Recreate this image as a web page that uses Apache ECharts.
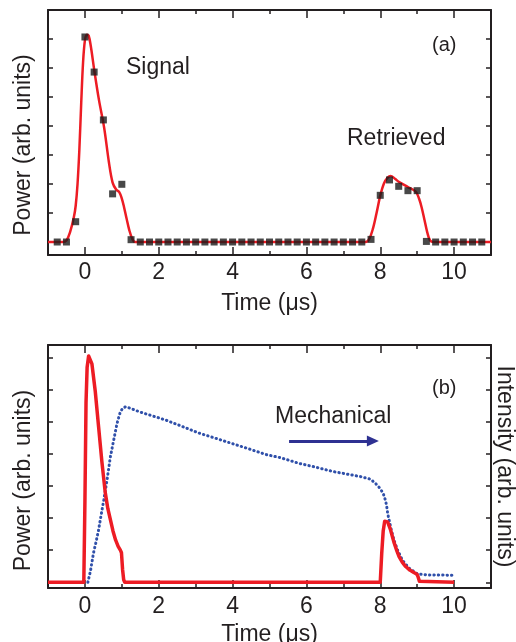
<!DOCTYPE html>
<html>
<head>
<meta charset="utf-8">
<script src="https://cdn.jsdelivr.net/npm/echarts@6/dist/echarts.min.js"></script>
<style>
  html, body { margin: 0; padding: 0; background: #fff; }
  #main { width: 516px; height: 642px; }
</style>
</head>
<body>
<div id="main"></div>
<script>
// (a) measured points: time in us, power in arb. units
var sigTime = [-0.75, -0.5, -0.25, 0, 0.25, 0.5, 0.75, 1, 1.25, 1.5, 1.75, 2, 2.25, 2.5, 2.75, 3, 3.25, 3.5, 3.75, 4, 4.25, 4.5, 4.75, 5, 5.25, 5.5, 5.75, 6, 6.25, 6.5, 6.75, 7, 7.25, 7.5, 7.75, 8, 8.25, 8.5, 8.75, 9, 9.25, 9.5, 9.75, 10, 10.25, 10.5, 10.75];
var sigPower = [0, 0, 0.7, 7.07, 5.86, 4.21, 1.66, 1.99, 0.08, 0, 0, 0, 0, 0, 0, 0, 0, 0, 0, 0, 0, 0, 0, 0, 0, 0, 0, 0, 0, 0, 0, 0, 0, 0, 0.09, 1.61, 2.14, 1.92, 1.77, 1.77, 0.02, 0, 0, 0, 0, 0, 0];

// (a) fitted red curve
var fitTime = [-1, -0.6, -0.5, -0.4, -0.3, -0.25, -0.2, -0.15, -0.1, -0.05, 0, 0.05, 0.1, 0.16, 0.25, 0.38, 0.52, 0.65, 0.75, 0.85, 0.93, 1.0, 1.06, 1.13, 1.2, 1.28, 1.36, 7.6, 7.7, 7.8, 7.9, 8.0, 8.1, 8.2, 8.28, 8.4, 8.5, 8.74, 8.96, 9.05, 9.12, 9.2, 9.27, 9.35, 9.45, 11];
var fitPower = [0, 0, 0.05, 0.35, 0.85, 1.25, 2.0, 3.2, 4.8, 6.2, 6.95, 7.15, 7.12, 6.75, 5.95, 4.9, 3.95, 2.75, 2.05, 1.8, 1.72, 1.5, 1.2, 0.8, 0.42, 0.12, 0, 0, 0.1, 0.45, 1.0, 1.6, 2.02, 2.22, 2.28, 2.18, 2.08, 1.9, 1.74, 1.5, 1.2, 0.75, 0.35, 0.05, 0, 0];

// (b) optical power (red)
var optTime = [-1, -0.03, 0.0, 0.03, 0.06, 0.1, 0.14, 0.19, 0.28, 0.37, 0.46, 0.55, 0.62, 0.69, 0.76, 0.83, 0.9, 0.96, 0.99, 1.02, 1.05, 1.08, 8.0, 8.04, 8.08, 8.12, 8.16, 8.2, 8.28, 8.37, 8.45, 8.51, 8.6, 8.69, 8.8, 8.92, 9.0, 9.03, 9.06, 9.08, 10];
var optPower = [0, 0, 2.5, 5.6, 6.7, 7.05, 7.0, 6.8, 5.95, 4.85, 3.75, 2.8, 2.3, 1.95, 1.6, 1.32, 1.12, 1.0, 0.92, 0.4, 0.08, 0, 0, 0.9, 1.6, 1.9, 1.96, 1.88, 1.63, 1.25, 0.98, 0.8, 0.62, 0.49, 0.38, 0.3, 0.24, 0.15, 0.03, 0, 0];

// (b) mechanical intensity (blue dots)
var mechTime = [0.08, 0.15, 0.23, 0.3, 0.37, 0.44, 0.51, 0.6, 0.69, 0.78, 0.87, 0.96, 1.03, 1.11, 1.5, 2.17, 2.6, 3.08, 3.5, 3.99, 4.4, 4.9, 5.3, 5.81, 6.2, 6.72, 7.1, 7.47, 7.74, 7.87, 7.99, 8.08, 8.13, 8.17, 8.2, 8.24, 8.3, 8.37, 8.47, 8.6, 8.78, 9.01, 9.28, 10];
var mechIntensity = [0, 0.35, 0.9, 1.25, 1.63, 2.1, 2.56, 3.19, 3.91, 4.43, 4.95, 5.31, 5.43, 5.47, 5.3, 5.06, 4.87, 4.65, 4.5, 4.32, 4.17, 3.98, 3.88, 3.7, 3.6, 3.45, 3.37, 3.29, 3.21, 3.08, 2.93, 2.77, 2.59, 2.41, 2.15, 1.94, 1.63, 1.32, 1.0, 0.69, 0.44, 0.26, 0.23, 0.22];

var timeLabels = [0, 2, 4, 6, 8, 10];
var powerTicksA = [0, 1, 2, 3, 4, 5, 6, 7, 8];
var powerTicksB = [0, 1, 2, 3, 4, 5, 6, 7];
var arrowFrom = [5.53, 4.4];
var arrowTo = [7.8, 4.4];

function pairs(xs, ys) {
    var out = [];
    for (var i = 0; i < xs.length; i++) {
        out.push([xs[i], ys[i]]);
    }
    return out;
}

var ink = '#231f20';
var font = '"Liberation Sans", Arial, sans-serif';
var red = '#ed1c24';

// four x axes per panel: bottom short/long ticks, top short/long ticks
function timeAxes(grid, nameGap, margin) {
    var line = { onZero: false, lineStyle: { color: ink, width: 2 } };
    var noLine = { show: false, onZero: false };
    return [
        {
            gridIndex: grid, type: 'value', position: 'bottom', min: -1, max: 11, interval: 1,
            axisLine: line,
            axisTick: { inside: true, length: 4, lineStyle: { color: ink, width: 1.5 } },
            axisLabel: { customValues: timeLabels, margin: margin, fontSize: 23, color: ink, fontFamily: font },
            splitLine: { show: false },
            name: 'Time (μs)', nameLocation: 'middle', nameGap: nameGap,
            nameTextStyle: { fontSize: 23, color: ink, fontFamily: font }
        },
        {
            gridIndex: grid, type: 'value', position: 'bottom', min: -1, max: 11,
            axisLine: noLine,
            axisTick: { inside: true, length: 8, customValues: timeLabels, lineStyle: { color: ink, width: 1.5 } },
            axisLabel: { show: false }, splitLine: { show: false }
        },
        {
            gridIndex: grid, type: 'value', position: 'top', min: -1, max: 11, interval: 1,
            axisLine: line,
            axisTick: { inside: true, length: 4, lineStyle: { color: ink, width: 1.5 } },
            axisLabel: { show: false }, splitLine: { show: false }
        },
        {
            gridIndex: grid, type: 'value', position: 'top', min: -1, max: 11,
            axisLine: noLine,
            axisTick: { inside: true, length: 8, customValues: timeLabels, lineStyle: { color: ink, width: 1.5 } },
            axisLabel: { show: false }, splitLine: { show: false }
        }
    ];
}

function powerAxis(grid, pos, lo, hi, ticks, name, nameGap, shift) {
    var ax = {
        gridIndex: grid, type: 'value', position: pos, min: lo, max: hi,
        axisLine: { show: true, onZero: false, lineStyle: { color: ink, width: 2 } },
        axisTick: { show: true, inside: true, length: 5, customValues: ticks, lineStyle: { color: ink, width: 1.5 } },
        axisLabel: { show: false },
        splitLine: { show: false }
    };
    if (name) {
        ax.name = name;
        ax.nameLocation = 'middle';
        ax.nameGap = nameGap;
        ax.nameTextStyle = { fontSize: 23, color: ink, fontFamily: font, padding: [0, shift || 0, 0, 0] };
        if (pos === 'right') ax.nameRotate = -90;
    }
    return ax;
}

var chart = echarts.init(document.getElementById('main'));

chart.setOption({
    backgroundColor: '#fff',
    animation: false,
    grid: [
        { left: 48, top: 10, width: 443, height: 245, outerBoundsMode: 'none', containLabel: false },
        { left: 48, top: 345, width: 443, height: 243, outerBoundsMode: 'none', containLabel: false }
    ],
    xAxis: timeAxes(0, 37, 6).concat(timeAxes(1, 35, 7)),
    yAxis: [
        powerAxis(0, 'left', -0.448, 8, powerTicksA, 'Power (arb. units)', 13, 25),
        powerAxis(0, 'right', -0.448, 8, powerTicksA),
        powerAxis(1, 'left', -0.178, 7.39, powerTicksB, 'Power (arb. units)', 13, 28),
        powerAxis(1, 'right', -0.178, 7.39, powerTicksB, 'Intensity (arb. units)', 2)
    ],
    graphic: [
        { type: 'text', x: 126, y: 68, style: { text: 'Signal', fontSize: 23, fontFamily: font, fill: ink, verticalAlign: 'middle' } },
        { type: 'text', x: 347, y: 139, style: { text: 'Retrieved', fontSize: 23, fontFamily: font, fill: ink, verticalAlign: 'middle' } },
        { type: 'text', x: 432, y: 45, style: { text: '(a)', fontSize: 20, fontFamily: font, fill: ink, verticalAlign: 'middle' } },
        { type: 'text', x: 432, y: 388, style: { text: '(b)', fontSize: 20, fontFamily: font, fill: ink, verticalAlign: 'middle' } },
        { type: 'text', x: 275, y: 417, style: { text: 'Mechanical', fontSize: 23, fontFamily: font, fill: ink, verticalAlign: 'middle' } }
    ],
    series: [
        {
            type: 'line', xAxisIndex: 0, yAxisIndex: 0,
            data: pairs(fitTime, fitPower),
            smooth: 0.35, showSymbol: false,
            lineStyle: { color: red, width: 2.5 }, z: 2
        },
        {
            type: 'scatter', xAxisIndex: 0, yAxisIndex: 0,
            data: pairs(sigTime, sigPower),
            symbol: 'rect', symbolSize: 7,
            itemStyle: { color: '#1a1a1a' }, z: 3
        },
        {
            type: 'line', xAxisIndex: 4, yAxisIndex: 3,
            data: pairs(mechTime, mechIntensity),
            showSymbol: false,
            lineStyle: { color: '#3050aa', width: 3, type: [0.4, 4.0], cap: 'round' },
            markLine: {
                silent: true, symbol: ['none', 'triangle'], symbolSize: [11, 12],
                label: { show: false },
                lineStyle: { color: '#2e3192', width: 3, type: 'solid' },
                data: [[{ coord: arrowFrom }, { coord: arrowTo }]]
            },
            z: 2
        },
        {
            type: 'line', xAxisIndex: 4, yAxisIndex: 2,
            data: pairs(optTime, optPower),
            showSymbol: false,
            lineStyle: { color: red, width: 3.5, join: 'round' }, z: 3
        }
    ]
});
</script>
</body>
</html>
